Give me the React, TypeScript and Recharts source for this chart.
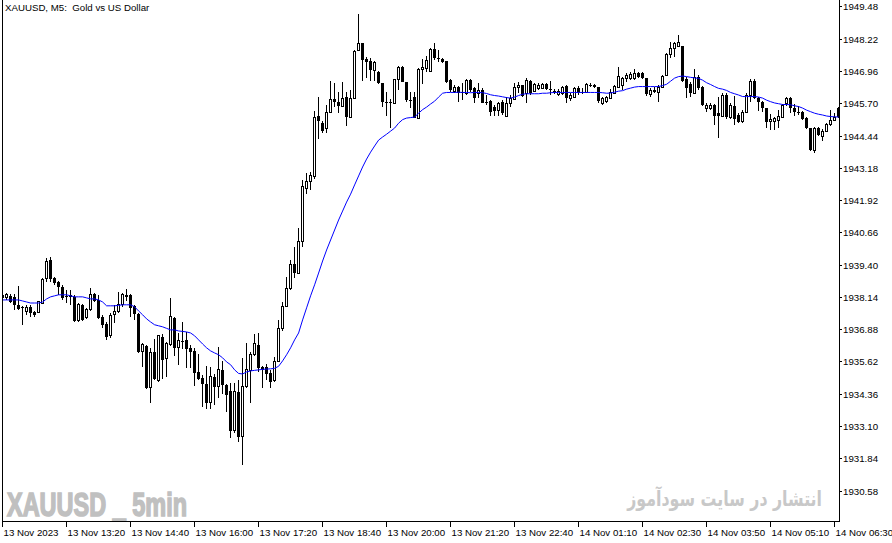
import { useLayoutEffect, useRef, useState } from 'react'
import { Bar, ComposedChart, Line, XAxis, YAxis } from 'recharts'

// one row per 5-minute bar: [open, high, low, close]
const candles: [number, number, number, number][] = [
  [1938.24, 1938.31, 1938.04, 1938.12], [1938.12, 1938.31, 1938.04, 1938.24], [1938.2, 1938.27, 1937.92, 1937.96],
  [1938.16, 1938.27, 1937.65, 1937.85], [1937.85, 1938.59, 1937.65, 1937.69], [1937.77, 1937.81, 1937.07, 1937.73],
  [1937.57, 1937.85, 1937.46, 1937.73], [1937.77, 1937.85, 1937.38, 1937.53], [1937.57, 1937.61, 1937.38, 1937.46],
  [1937.53, 1938.0, 1937.53, 1937.96], [1937.92, 1938.9, 1937.88, 1938.82], [1938.86, 1939.68, 1938.74, 1939.56],
  [1939.6, 1939.72, 1938.74, 1938.86], [1938.9, 1938.92, 1938.63, 1938.7], [1938.74, 1938.78, 1938.24, 1938.55],
  [1938.55, 1938.63, 1938.04, 1938.12], [1938.2, 1938.43, 1937.92, 1938.16], [1938.16, 1938.43, 1937.85, 1938.2],
  [1938.16, 1938.24, 1937.18, 1937.22], [1937.22, 1937.92, 1937.18, 1937.88], [1937.85, 1937.88, 1937.22, 1937.26],
  [1937.34, 1937.73, 1937.3, 1937.65], [1937.65, 1938.51, 1937.61, 1938.27], [1938.27, 1938.31, 1937.96, 1938.0],
  [1938.04, 1938.24, 1937.3, 1937.34], [1937.38, 1937.46, 1936.95, 1937.07], [1937.1, 1937.18, 1936.48, 1936.6],
  [1936.64, 1937.53, 1936.56, 1937.42], [1937.46, 1937.85, 1937.14, 1937.57], [1937.57, 1938.35, 1937.53, 1937.88],
  [1937.85, 1938.31, 1937.77, 1938.24], [1938.24, 1938.47, 1938.0, 1938.16], [1938.24, 1938.27, 1937.38, 1937.73],
  [1937.81, 1937.85, 1937.26, 1937.49], [1937.49, 1937.53, 1935.98, 1936.01], [1936.01, 1936.36, 1935.43, 1936.29],
  [1936.25, 1936.29, 1934.57, 1934.61], [1934.61, 1936.17, 1934.02, 1935.97], [1936.01, 1936.52, 1934.92, 1934.96],
  [1934.88, 1936.68, 1934.84, 1936.64], [1936.6, 1936.71, 1934.96, 1935.7], [1935.74, 1936.4, 1935.04, 1936.32],
  [1936.29, 1938.12, 1936.25, 1937.38], [1937.34, 1937.38, 1935.86, 1936.17], [1936.17, 1936.75, 1935.51, 1936.44],
  [1936.44, 1937.18, 1936.13, 1936.42], [1936.48, 1936.79, 1935.39, 1936.13], [1936.17, 1936.29, 1935.39, 1936.01],
  [1936.05, 1936.17, 1934.69, 1935.19], [1935.23, 1935.93, 1934.92, 1934.96], [1935.0, 1935.11, 1933.86, 1934.76],
  [1934.76, 1935.47, 1933.79, 1934.02], [1934.02, 1935.43, 1933.79, 1935.04], [1935.04, 1935.15, 1933.94, 1934.65],
  [1934.65, 1936.21, 1934.22, 1935.31], [1935.31, 1935.66, 1934.37, 1934.72], [1934.72, 1934.76, 1933.67, 1934.34],
  [1934.49, 1934.8, 1932.66, 1932.93], [1932.93, 1934.8, 1932.85, 1934.45], [1934.45, 1934.92, 1932.5, 1932.7],
  [1932.7, 1935.78, 1931.6, 1934.65], [1934.65, 1936.36, 1934.61, 1935.31], [1935.27, 1936.01, 1934.02, 1935.9],
  [1935.9, 1936.71, 1935.86, 1936.32], [1936.29, 1936.75, 1935.23, 1935.39], [1935.43, 1935.45, 1934.61, 1935.31],
  [1935.43, 1935.54, 1934.92, 1935.15], [1935.19, 1935.31, 1934.61, 1934.84], [1934.88, 1935.82, 1934.84, 1935.62],
  [1935.62, 1937.26, 1935.6, 1936.91], [1936.91, 1937.96, 1936.83, 1937.77], [1937.77, 1938.94, 1937.75, 1938.47],
  [1938.47, 1939.6, 1938.43, 1939.44], [1939.44, 1940.11, 1938.9, 1939.09], [1939.09, 1940.85, 1939.07, 1940.34],
  [1940.34, 1942.72, 1940.11, 1942.45], [1942.41, 1943.0, 1942.17, 1942.68], [1942.68, 1943.03, 1942.33, 1942.88],
  [1942.84, 1945.42, 1942.76, 1945.18], [1945.22, 1945.97, 1944.32, 1945.03], [1944.94, 1945.03, 1944.55, 1944.63],
  [1944.75, 1945.65, 1944.55, 1945.37], [1945.37, 1946.58, 1945.33, 1945.88], [1945.88, 1946.5, 1945.57, 1945.76],
  [1945.76, 1946.15, 1945.33, 1945.61], [1945.61, 1946.54, 1945.57, 1945.92], [1945.96, 1946.15, 1944.83, 1945.18],
  [1945.18, 1946.23, 1945.14, 1945.92], [1945.92, 1947.79, 1945.88, 1947.75], [1947.79, 1949.19, 1947.75, 1948.07],
  [1948.07, 1948.09, 1946.58, 1947.4], [1947.44, 1947.52, 1946.7, 1947.32], [1947.36, 1947.48, 1946.58, 1947.01],
  [1947.01, 1947.36, 1946.58, 1947.32], [1946.93, 1946.97, 1946.46, 1946.5], [1946.5, 1946.52, 1945.57, 1945.76],
  [1945.76, 1946.15, 1945.22, 1945.72], [1945.76, 1945.88, 1944.75, 1945.72], [1945.72, 1946.68, 1945.69, 1946.66],
  [1946.66, 1947.17, 1946.23, 1947.13], [1947.13, 1947.17, 1946.54, 1946.54], [1946.54, 1946.56, 1945.76, 1945.84],
  [1945.84, 1946.15, 1945.53, 1945.8], [1945.96, 1946.15, 1945.14, 1945.14], [1945.14, 1947.09, 1945.12, 1947.05],
  [1947.05, 1947.44, 1946.46, 1947.13], [1947.09, 1947.56, 1946.93, 1947.4], [1946.97, 1947.87, 1946.93, 1947.83],
  [1947.83, 1948.07, 1947.4, 1947.48], [1947.48, 1947.79, 1947.32, 1947.44], [1947.44, 1947.48, 1947.28, 1947.32],
  [1947.36, 1947.38, 1946.5, 1946.54], [1946.62, 1946.66, 1946.15, 1946.23], [1946.19, 1946.43, 1946.11, 1946.35],
  [1946.35, 1946.39, 1945.76, 1946.11], [1946.15, 1946.5, 1945.84, 1946.13], [1946.11, 1946.66, 1946.04, 1946.62],
  [1946.62, 1946.66, 1946.15, 1946.23], [1946.31, 1946.35, 1945.72, 1945.92], [1946.11, 1946.5, 1945.92, 1946.23],
  [1946.23, 1946.31, 1945.72, 1945.74], [1945.76, 1946.04, 1945.65, 1945.74], [1945.8, 1945.84, 1945.22, 1945.37],
  [1945.57, 1945.65, 1945.22, 1945.42], [1945.42, 1945.76, 1945.22, 1945.72], [1945.76, 1945.84, 1945.26, 1945.33],
  [1945.22, 1945.96, 1945.18, 1945.69], [1945.72, 1946.04, 1945.57, 1945.92], [1945.88, 1946.5, 1945.84, 1946.35],
  [1946.35, 1946.54, 1946.11, 1946.43], [1946.43, 1946.45, 1945.96, 1946.0], [1946.11, 1946.7, 1945.72, 1946.62],
  [1946.58, 1946.62, 1946.04, 1946.11], [1946.19, 1946.5, 1946.15, 1946.46], [1946.31, 1946.5, 1946.23, 1946.43],
  [1946.31, 1946.5, 1946.27, 1946.46], [1946.46, 1946.5, 1946.23, 1946.27], [1946.27, 1946.58, 1946.04, 1946.23],
  [1946.19, 1946.27, 1946.08, 1946.11], [1946.08, 1946.27, 1946.0, 1946.19], [1946.11, 1946.39, 1946.04, 1946.35],
  [1946.39, 1946.43, 1945.72, 1945.92], [1945.92, 1946.11, 1945.8, 1946.04], [1945.96, 1946.35, 1945.92, 1946.31],
  [1946.31, 1946.39, 1946.04, 1946.11], [1946.15, 1946.31, 1946.08, 1946.13], [1946.15, 1946.5, 1946.11, 1946.46],
  [1946.43, 1946.5, 1946.35, 1946.39], [1946.43, 1946.46, 1946.31, 1946.35], [1946.35, 1946.37, 1945.72, 1945.8],
  [1945.72, 1945.96, 1945.65, 1945.92], [1945.8, 1946.0, 1945.72, 1945.96], [1945.92, 1946.27, 1945.88, 1946.15],
  [1946.11, 1946.43, 1946.09, 1946.39], [1946.35, 1947.13, 1946.31, 1946.78], [1946.43, 1946.74, 1946.23, 1946.7],
  [1946.7, 1946.89, 1946.54, 1946.82], [1946.7, 1946.93, 1946.62, 1946.86], [1946.7, 1947.05, 1946.62, 1946.89],
  [1946.89, 1946.93, 1946.7, 1946.74], [1946.89, 1946.93, 1946.66, 1946.7], [1946.7, 1946.72, 1946.0, 1946.08],
  [1946.08, 1946.31, 1945.96, 1946.23], [1946.19, 1946.35, 1946.11, 1946.23], [1946.15, 1946.43, 1945.76, 1946.35],
  [1946.35, 1946.82, 1946.31, 1946.78], [1946.82, 1947.67, 1946.78, 1947.63], [1947.63, 1948.11, 1947.48, 1947.87],
  [1947.87, 1948.11, 1947.52, 1948.07], [1947.95, 1948.38, 1947.91, 1948.11], [1947.95, 1947.97, 1946.54, 1946.58],
  [1946.66, 1946.74, 1945.92, 1946.31], [1946.46, 1946.54, 1945.96, 1946.11], [1946.11, 1947.05, 1946.08, 1946.74],
  [1946.74, 1946.82, 1946.23, 1946.31], [1946.35, 1946.39, 1945.61, 1945.65], [1945.53, 1945.72, 1945.37, 1945.65],
  [1945.53, 1945.72, 1945.46, 1945.65], [1945.65, 1945.69, 1944.87, 1945.22], [1945.33, 1945.96, 1944.36, 1945.22],
  [1945.22, 1946.11, 1945.18, 1946.04], [1946.04, 1946.11, 1945.1, 1945.18], [1945.18, 1945.72, 1945.1, 1945.65],
  [1945.61, 1946.0, 1944.87, 1945.1], [1945.26, 1945.33, 1944.94, 1944.99], [1944.99, 1945.46, 1944.94, 1945.37],
  [1945.37, 1946.11, 1945.35, 1946.04], [1946.04, 1946.66, 1945.76, 1946.58], [1946.58, 1946.66, 1945.88, 1945.92],
  [1945.92, 1945.96, 1945.42, 1945.76], [1945.76, 1945.8, 1945.37, 1945.53], [1945.53, 1945.55, 1944.75, 1944.99],
  [1944.99, 1945.29, 1944.67, 1945.1], [1944.99, 1945.18, 1944.67, 1945.14], [1945.03, 1945.46, 1944.75, 1945.22],
  [1945.18, 1945.69, 1945.14, 1945.65], [1945.69, 1945.96, 1945.61, 1945.92], [1945.92, 1945.96, 1945.33, 1945.53],
  [1945.53, 1945.69, 1945.22, 1945.37], [1945.37, 1945.61, 1945.26, 1945.35], [1945.37, 1945.42, 1945.06, 1945.1],
  [1945.14, 1945.18, 1944.71, 1944.75], [1944.75, 1944.77, 1943.85, 1943.89], [1943.89, 1944.79, 1943.77, 1944.75],
  [1944.75, 1944.79, 1944.44, 1944.48], [1944.44, 1944.71, 1944.24, 1944.63], [1944.63, 1944.94, 1944.59, 1944.9],
  [1944.87, 1945.46, 1944.83, 1945.06], [1945.06, 1945.33, 1945.03, 1945.18], [1945.53, 1945.57, 1945.14, 1945.18],
]

// blue moving average, one value per bar
const maValues = [
  1938.04, 1938.04, 1938.04, 1938.04, 1938.04, 1938.0, 1937.96, 1937.92, 1937.92, 1937.92,
  1937.96, 1938.08, 1938.16, 1938.2, 1938.24, 1938.24, 1938.24, 1938.2, 1938.16, 1938.16,
  1938.16, 1938.12, 1938.08, 1938.08, 1938.04, 1937.96, 1937.81, 1937.81, 1937.81, 1937.83,
  1937.85, 1937.85, 1937.85, 1937.77, 1937.61, 1937.46, 1937.3, 1937.18, 1937.07, 1937.03,
  1936.99, 1936.93, 1936.87, 1936.87, 1936.83, 1936.81, 1936.79, 1936.75, 1936.64, 1936.48,
  1936.32, 1936.17, 1936.05, 1935.97, 1935.9, 1935.78, 1935.62, 1935.51, 1935.31, 1935.17,
  1935.15, 1935.23, 1935.27, 1935.29, 1935.31, 1935.33, 1935.34, 1935.35, 1935.37, 1935.45,
  1935.66, 1935.9, 1936.17, 1936.48, 1936.75, 1937.26, 1937.73, 1938.2, 1938.63, 1939.09,
  1939.56, 1939.99, 1940.38, 1940.77, 1941.16, 1941.51, 1941.86, 1942.17, 1942.53, 1942.88,
  1943.23, 1943.54, 1943.81, 1944.05, 1944.28, 1944.4, 1944.51, 1944.63, 1944.75, 1944.94,
  1945.08, 1945.14, 1945.16, 1945.18, 1945.33, 1945.47, 1945.57, 1945.69, 1945.8, 1945.96,
  1946.11, 1946.14, 1946.14, 1946.14, 1946.15, 1946.14, 1946.14, 1946.13, 1946.14, 1946.14,
  1946.13, 1946.1, 1946.05, 1946.02, 1946.0, 1945.97, 1945.94, 1945.92, 1945.96, 1946.02,
  1946.07, 1946.09, 1946.09, 1946.09, 1946.09, 1946.11, 1946.11, 1946.13, 1946.14, 1946.14,
  1946.14, 1946.14, 1946.14, 1946.14, 1946.14, 1946.14, 1946.14, 1946.14, 1946.14, 1946.14,
  1946.13, 1946.11, 1946.12, 1946.15, 1946.19, 1946.21, 1946.27, 1946.31, 1946.35, 1946.37,
  1946.37, 1946.37, 1946.37, 1946.37, 1946.37, 1946.41, 1946.46, 1946.58, 1946.7, 1946.76,
  1946.78, 1946.76, 1946.73, 1946.71, 1946.69, 1946.62, 1946.52, 1946.45, 1946.37, 1946.3,
  1946.27, 1946.22, 1946.14, 1946.09, 1946.04, 1945.98, 1945.98, 1945.98, 1945.98, 1945.96,
  1945.92, 1945.84, 1945.78, 1945.73, 1945.7, 1945.67, 1945.67, 1945.66, 1945.62, 1945.59,
  1945.53, 1945.45, 1945.39, 1945.33, 1945.29, 1945.26, 1945.22, 1945.2, 1945.19, 1945.18,
]

// one label every 16 bars
const timeLabels = [
  '13 Nov 2023', '13 Nov 13:20', '13 Nov 14:40', '13 Nov 16:00', '13 Nov 17:20', '13 Nov 18:40', '13 Nov 20:00',
  '13 Nov 21:20', '13 Nov 22:40', '14 Nov 01:10', '14 Nov 02:30', '14 Nov 03:50', '14 Nov 05:10', '14 Nov 06:30',
]
const barsPerLabel = 16

const priceTicks = [
  1949.48, 1948.22, 1946.96, 1945.7, 1944.44, 1943.18, 1941.92, 1940.66,
  1939.4, 1938.14, 1936.88, 1935.62, 1934.36, 1933.1, 1931.84, 1930.58,
]

const rows = candles.map(([open, high, low, close], i) => ({
  i,
  open,
  high,
  low,
  close,
  range: [low, high],
  ma: maValues[i],
}))
const labelIndexes = timeLabels.map((_, k) => k * barsPerLabel)

const FONT = '"Liberation Sans", Arial, sans-serif'

function Candle(props: any) {
  const { x, width, y, height, payload } = props
  if (!payload) return null
  const top = Math.min(y, y + height)
  const span = Math.abs(height)
  const toY = (p: number) => top + ((payload.high - p) / (payload.high - payload.low)) * span
  const cx = Math.round(x + width / 2 - 0.5) + 0.5
  const bodyTop = toY(Math.max(payload.open, payload.close))
  const bodyH = Math.max(toY(Math.min(payload.open, payload.close)) - bodyTop, 1)
  const up = payload.close >= payload.open
  return (
    <g shapeRendering="crispEdges">
      <line x1={cx} x2={cx} y1={top} y2={top + span} stroke="#000" />
      {up ? (
        <rect x={cx - 1} y={bodyTop} width={2} height={bodyH} fill="#fff" stroke="#000" />
      ) : (
        <rect x={cx - 1.5} y={bodyTop} width={3} height={bodyH} fill="#000" />
      )}
    </g>
  )
}

function TimeTick({ x, y, payload }: any) {
  const k = labelIndexes.indexOf(payload.value)
  const px = Math.round(x - 0.5) + 0.5
  return (
    <g>
      <line x1={px} x2={px} y1={y} y2={y + 5} stroke="#000" shapeRendering="crispEdges" />
      <text x={px + 1} y={y + 14} fontSize={9.7} fontFamily={FONT} fill="#000">
        {timeLabels[k]}
      </text>
    </g>
  )
}

function PriceTick({ x, y, payload }: any) {
  const py = Math.round(y - 0.5) + 0.5
  return (
    <g>
      <line x1={x} x2={x + 3} y1={py} y2={py} stroke="#000" shapeRendering="crispEdges" />
      <text x={x + 4} y={py + 3.5} fontSize={9.7} fontFamily={FONT} fill="#000">
        {payload.value.toFixed(2)}
      </text>
    </g>
  )
}

// watermark squeezed horizontally to a given width, measured after layout
function FittedText({ right, baseline, width, children, ...rest }: any) {
  const ref = useRef<SVGTextElement>(null)
  const [sx, setSx] = useState(1)
  useLayoutEffect(() => {
    const w = ref.current?.getComputedTextLength() ?? 0
    if (w > 0) setSx(width / w)
  }, [width])
  return (
    <text ref={ref} x={0} y={0} textAnchor="end" transform={`translate(${right},${baseline}) scale(${sx},1)`} {...rest}>
      {children}
    </text>
  )
}

export default function App() {
  return (
    <div style={{ position: 'relative', width: 892, height: 543, background: '#fff' }}>
      <style>{'body{margin:0}'}</style>
      <ComposedChart width={892} height={543} data={rows} margin={{ top: 0, right: 0, bottom: 0, left: 2 }}>
        <XAxis
          dataKey="i"
          type="number"
          domain={[-0.15, 209.1]}
          allowDataOverflow
          ticks={labelIndexes}
          interval={0}
          height={21}
          tickSize={0}
          tickMargin={0}
          axisLine={false}
          tickLine={false}
          tick={<TimeTick />}
        />
        <YAxis
          orientation="right"
          domain={[1929.37, 1949.75]}
          allowDataOverflow
          ticks={priceTicks}
          interval={0}
          width={53}
          tickSize={0}
          tickMargin={0}
          axisLine={false}
          tickLine={false}
          tick={<PriceTick />}
        />
        <Bar dataKey="range" barSize={3} isAnimationActive={false} shape={(p: any) => <Candle {...p} />} />
        <Line dataKey="ma" type="linear" stroke="#0000ff" strokeWidth={1} dot={false} activeDot={false} isAnimationActive={false} />
      </ComposedChart>

      {/* chart frame */}
      <div style={{ position: 'absolute', left: 2, top: 0, width: 1, height: 522, background: '#000' }} />
      <div style={{ position: 'absolute', left: 839, top: 0, width: 1, height: 522, background: '#000' }} />
      <div style={{ position: 'absolute', left: 2, top: 521, width: 838, height: 1, background: '#000' }} />

      <svg width={892} height={543} style={{ position: 'absolute', left: 0, top: 0, pointerEvents: 'none' }}>
        <text x={5} y={11} fontSize={9.7} fontFamily={FONT} fill="#000" style={{ whiteSpace: 'pre' }}>
          XAUUSD, M5:  Gold vs US Dollar
        </text>
        <text
          x={7}
          y={516}
          fontSize={33}
          fontWeight="bold"
          fontFamily='"Liberation Sans Narrow", "Liberation Sans", sans-serif'
          textLength={180}
          lengthAdjust="spacingAndGlyphs"
          fill="#c0c0c0"
          stroke="#c0c0c0"
          strokeWidth={1.6}
        >
          XAUUSD _ 5min
        </text>
        <FittedText
          right={822}
          baseline={506}
          width={195}
          fontSize={21}
          fontWeight="bold"
          fontFamily='"DejaVu Sans", sans-serif'
          fill="#c8c8c8"
        >
          انتشار در سایت سودآموز
        </FittedText>
      </svg>
    </div>
  )
}
